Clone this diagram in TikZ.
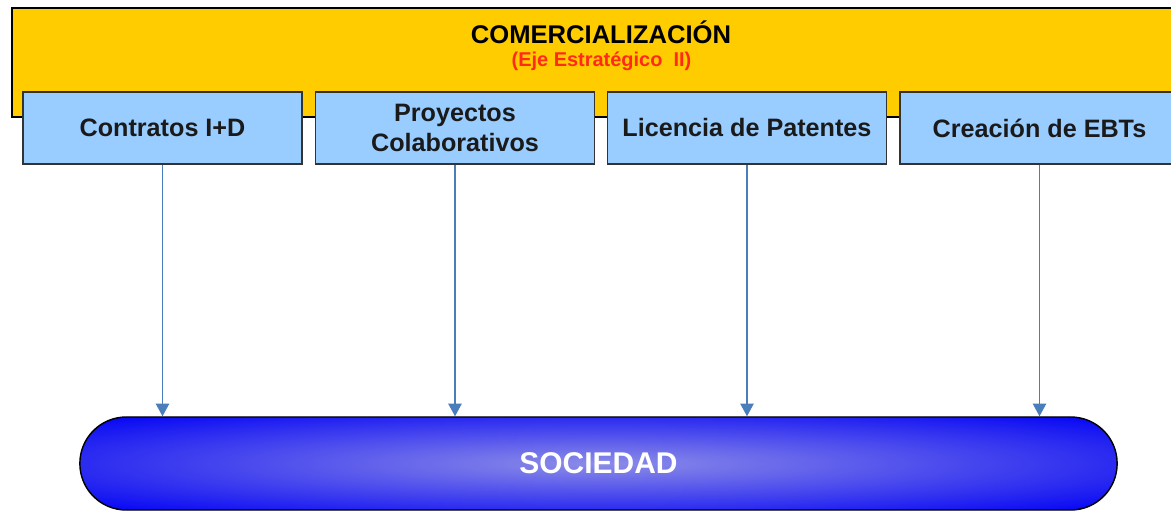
\documentclass[tikz,border=0pt]{standalone}
\usepackage{fontspec}
\setmainfont{Liberation Sans}
\usetikzlibrary{arrows.meta}
\definecolor{eje}{HTML}{FFCC00}
\definecolor{caja}{HTML}{99CCFF}
\definecolor{borde}{HTML}{333333}
\definecolor{flecha}{HTML}{4A7EBB}
\definecolor{rojo}{HTML}{FF2A1A}
\definecolor{azul}{HTML}{0000F5}
\definecolor{brillo}{HTML}{8C8CE8}
\definecolor{texto}{HTML}{1A1A1A}
\pgfdeclareradialshading{pildora}{\pgfpoint{0bp}{0bp}}{color(0bp)=(brillo); color(36bp)=(azul); color(50bp)=(azul)}
\tikzset{
  ejebox/.style={draw=black, fill=eje, line width=1.5pt, minimum width=29.45cm, minimum height=2.725cm, inner sep=0pt},
  titulo/.style={text=black, font=\bfseries\fontsize{18.2}{20}\selectfont},
  subtitulo/.style={text=rojo, font=\bfseries\fontsize{14.2}{16}\selectfont},
  mecanismo/.style={draw=borde, fill=caja, line width=1.1pt, minimum width=6.975cm, minimum height=1.8cm,
    inner sep=0pt, align=center, text=texto, font=\bfseries\fontsize{17.9}{21.3}\selectfont},
  sociedadbox/.style={draw=black, line width=1pt, shading=pildora,
    rounded corners=1.16cm, minimum width=25.925cm, minimum height=2.325cm, inner sep=0pt,
    text=white, font=\bfseries\fontsize{21.3}{24}\selectfont},
  conector/.style={draw=flecha, line width=1pt, -{Triangle[length=9pt,width=9.5pt]}},
}
\begin{document}
\begin{tikzpicture}[x=0.025cm, y=-0.025cm]
  \useasboundingbox (0,0) rectangle (1171,513);
  \fill[white] (0,0) rectangle (1171,513);
  \clip (0,0) rectangle (1171,513);
  % eje estrategico
  \node[ejebox] (eje) at (601,62.5) {};
  \node[titulo] (comercial) at (601,32) {COMERCIALIZACIÓN};
  \node[subtitulo] (ejeii) at (601.5,61) {(Eje Estratégico\ \ II)};
  % mecanismos
  \node[mecanismo] (contratos) at (162.5,128) {Contratos I+D};
  \node[mecanismo] (proyectos) at (455,128) {Proyectos\\Colaborativos};
  \node[mecanismo] (licencia) at (747,128) {Licencia de Patentes};
  \node[mecanismo] (ebts) at (1039.5,128) {Creación de EBTs};
  % sociedad
  \node[sociedadbox] (sociedad) at (598.5,463.5) {SOCIEDAD};
  \foreach \m in {contratos,proyectos,licencia,ebts}
    \draw[conector] (\m.south) -- (\m.south |- sociedad.north);
\end{tikzpicture}
\end{document}
